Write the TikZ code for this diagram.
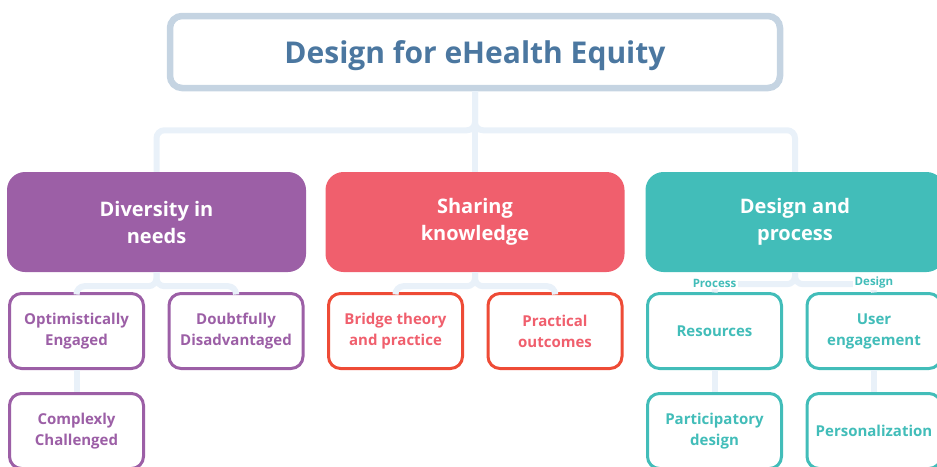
\documentclass[tikz,border=0pt]{standalone}
\usepackage{fontspec}
\setmainfont{Open Sans}

\definecolor{titleblue}{HTML}{4B77A0}
\definecolor{titleframe}{HTML}{C5D4E2}
\definecolor{linkgrey}{HTML}{E9F1F9}
\definecolor{needpurple}{HTML}{9C5FA6}
\definecolor{sharered}{HTML}{F05F6D}
\definecolor{sharerim}{HTML}{EE4B36}
\definecolor{designteal}{HTML}{42BDB9}

\tikzset{
  mainbox/.style={fill=#1, rounded corners=18pt, minimum width=299pt, minimum height=100pt,
    text=white, align=center, font=\bfseries\fontsize{20}{27}\selectfont},
  subbox/.style={draw=#1, text=#1, fill=white, line width=3pt, rounded corners=12pt,
    minimum width=134pt, minimum height=75pt, align=center,
    font=\bfseries\fontsize{15}{21}\selectfont},
  link/.style={draw=linkgrey, line width=6pt, rounded corners=8pt},
  tag/.style={text=designteal, fill=white, inner sep=1.5pt, font=\bfseries\fontsize{11.5}{13}\selectfont},
}

\begin{document}
\begin{tikzpicture}[x=1pt,y=-1pt]
    \useasboundingbox (0,0) rectangle (937,466);
    % top
    \node [draw=titleframe, line width=6.5pt, rounded corners=12pt, minimum width=610pt,
      minimum height=72pt, text depth=0pt, text=titleblue, font=\bfseries\fontsize{30}{34}\selectfont]
      (title) at (475,52) {Design for eHealth Equity};
    % three branches
    \node [mainbox=needpurple] (needs) at (156.5,222) {Diversity in\\needs};
    \node [mainbox=sharered]   (share) at (475,222)   {Sharing\\knowledge};
    \node [mainbox=designteal] (dsgn)  at (795,222)   {Design and\\process};
    % second row
    \node [subbox=needpurple] (optim) at (76.5,331)  {Optimistically\\Engaged};
    \node [subbox=needpurple] (doubt) at (236,331)   {Doubtfully\\Disadvantaged};
    \node [subbox=sharerim, text=sharered] (bridge) at (395.5,331) {Bridge theory\\and practice};
    \node [subbox=sharerim, text=sharered] (pract)  at (555,331)   {Practical\\outcomes};
    \node [subbox=designteal] (resrc) at (714.5,331) {Resources};
    \node [subbox=designteal] (usereng) at (874,331) {User\\engagement};
    % third row
    \node [subbox=needpurple] (cmplx) at (76.5,431) {Complexly\\Challenged};
    \node [subbox=designteal] (partic) at (714.5,431) {Participatory\\design};
    \node [subbox=designteal] (persnl) at (874,431) {Personalization};
    % connectors
    \draw [link] (title.south) -- (share.north);
    \draw [link] (title.south) -- ++(0,39) -| (needs.north);
    \draw [link] (title.south) -- ++(0,39) -| (dsgn.north);
    \draw [link] (needs.south) -- ++(0,14) -| (optim.north);
    \draw [link] (needs.south) -- ++(0,14) -| (doubt.north);
    \draw [link] (share.south) -- ++(0,14) -| (bridge.north);
    \draw [link] (share.south) -- ++(0,14) -| (pract.north);
    \draw [link] (dsgn.south) -- ++(0,12) -| (resrc.north);
    \draw [link] (dsgn.south) -- ++(0,12) -| (usereng.north);
    \draw [link] (optim.south) -- (cmplx.north);
    \draw [link] (resrc.south) -- (partic.north);
    \draw [link] (usereng.south) -- (persnl.north);
    % labels over the teal split
    \node [tag] (proclbl) at (714.5,283) {Process};
    \node [tag] (dsgnlbl) at (874,283)   {Design};
\end{tikzpicture}
\end{document}
